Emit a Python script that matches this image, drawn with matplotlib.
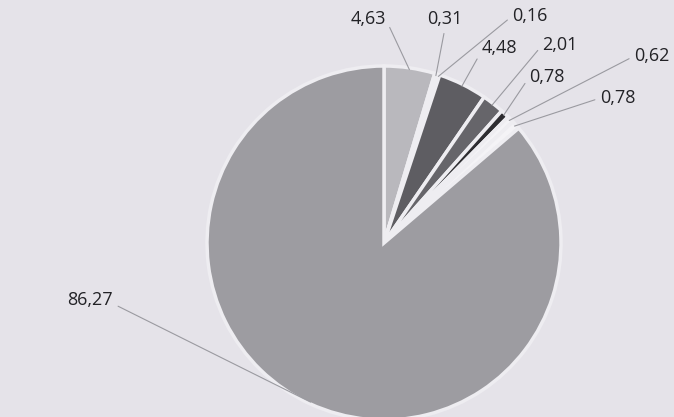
import numpy as np
import matplotlib.pyplot as plt

# slice values, clockwise from 12 o'clock
values = [4.63, 0.31, 0.16, 4.48, 2.01, 0.78, 0.62, 0.78, 86.27]
labels = ['4,63', '0,31', '0,16', '4,48', '2,01', '0,78', '0,62', '0,78', '86,27']
colors = ['#b9b8bd', '#f4f3f6', '#f4f3f6', '#5e5d62', '#66656a', '#2e2d31',
          '#f4f3f6', '#f4f3f6', '#9d9ca1']

# label text positions in figure pixels (from top-left) and which side the line leaves from
text_pos = [(368, 19), (445, 19), (530, 16), (499, 48), (560, 45), (547, 77),
            (652, 56), (618, 98), (90, 300)]
rel_pos = [(1, 0.5), (0.5, 0), (0, 0.5), (0, 0.3), (0, 0.5), (0, 0.5),
           (0, 0.5), (0, 0.5), (1, 0.3)]

W, H = 674, 417
fig = plt.figure(figsize=(W / 100, H / 100), dpi=100)
fig.patch.set_facecolor('#e5e3e9')
ax = fig.add_axes([0, 0, 1, 1])
ax.set_facecolor('#e5e3e9')

cx, cy, r = 384, H - 243, 177
wedges, _ = ax.pie(values, colors=colors, startangle=90, counterclock=False,
                   center=(cx, cy), radius=r, frame=True,
                   wedgeprops=dict(edgecolor='#eeedf1', linewidth=2.5))
ax.set_xlim(0, W)
ax.set_ylim(0, H)
ax.set_aspect('equal')
ax.axis('off')

for w, lab, (tx, ty), rp in zip(wedges, labels, text_pos, rel_pos):
    mid = np.deg2rad((w.theta1 + w.theta2) / 2)
    px, py = cx + r * 0.99 * np.cos(mid), cy + r * 0.99 * np.sin(mid)
    ax.annotate(lab, xy=(px, py), xytext=(tx, H - ty), textcoords='data',
                ha='center', va='center', fontsize=13, family='Open Sans',
                color='#222226',
                arrowprops=dict(arrowstyle='-', color='#9a9aa0', lw=0.8,
                                relpos=rp, shrinkA=2, shrinkB=0))

fig.savefig('out.png', dpi=100, facecolor=fig.get_facecolor())
